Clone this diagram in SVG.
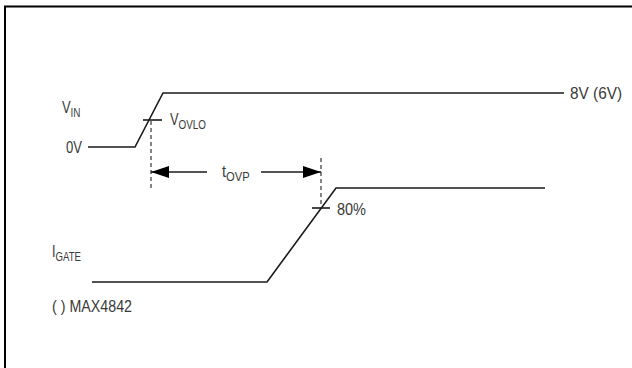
<svg xmlns="http://www.w3.org/2000/svg" width="632" height="368" viewBox="0 0 632 368">
<style>
.w{fill:none;stroke:#1a1a1a;stroke-width:1.6}
.d{fill:none;stroke:#444;stroke-width:1.3;stroke-dasharray:4 3}
.t{font-family:"Liberation Sans",sans-serif;font-size:17px;fill:#3a3a3a}
.s{font-size:13px}
</style>
<defs>
<marker id="ah" viewBox="0 0 18 12" refX="18" refY="6" markerWidth="18" markerHeight="12" markerUnits="userSpaceOnUse" orient="auto">
<path d="M0,0 L18,6 L0,12 Z" fill="#000"/>
</marker>
</defs>
<rect width="632" height="368" fill="#fff"/>
<path d="M5,368 V6.5 H632" fill="none" stroke="#000" stroke-width="2"/>
<g id="vin">
<polyline class="w" points="88,147 135,147 163,93 564,93"/>
<line class="w" x1="143" y1="120" x2="162" y2="120"/>
<text class="t" transform="translate(62,113) scale(0.76,1)">V<tspan class="s" dy="4">IN</tspan></text>
<text class="t" x="66" y="153" textLength="16" lengthAdjust="spacingAndGlyphs">0V</text>
<text class="t" x="570" y="99" textLength="52" lengthAdjust="spacingAndGlyphs">8V (6V)</text>
<text class="t" transform="translate(170,125) scale(0.76,1)">V<tspan class="s" dy="4">OVLO</tspan></text>
</g>
<g id="igate">
<polyline class="w" points="92,282 267,282 336,188 545,188"/>
<line class="w" x1="312" y1="208" x2="330" y2="208"/>
<text class="t" x="337" y="215" textLength="29" lengthAdjust="spacingAndGlyphs">80%</text>
<text class="t" transform="translate(52,257) scale(0.74,1)">I<tspan class="s" dy="4">GATE</tspan></text>
<text class="t" x="52" y="312" textLength="80" lengthAdjust="spacingAndGlyphs">( ) MAX4842</text>
</g>
<g id="connectors">
<line class="d" x1="151" y1="121" x2="151" y2="190"/>
<line class="d" x1="321" y1="158" x2="321" y2="207"/>
<line class="w" x1="207" y1="172" x2="151" y2="172" marker-end="url(#ah)"/>
<line class="w" x1="261" y1="172" x2="321" y2="172" marker-end="url(#ah)"/>
<text class="t" transform="translate(222,177) scale(0.86,1)">t<tspan class="s" dy="4">OVP</tspan></text>
</g>
</svg>
